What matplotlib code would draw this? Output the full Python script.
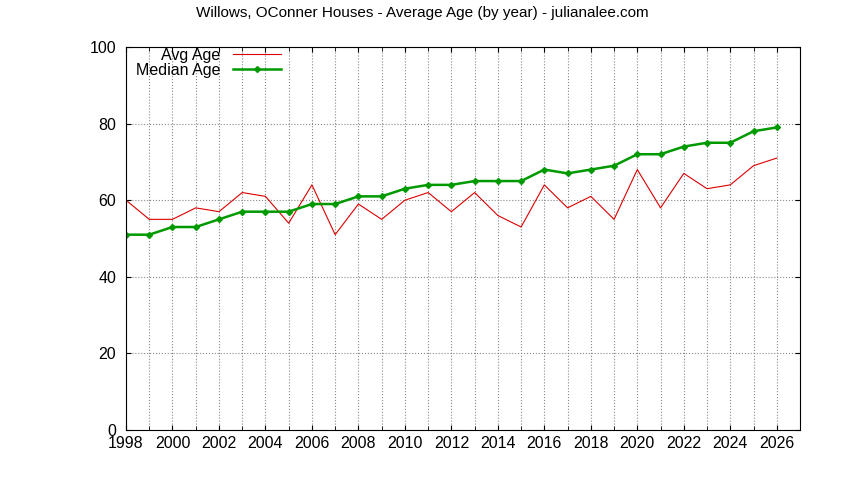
import numpy as np
import matplotlib
matplotlib.use('Agg')
import matplotlib.pyplot as plt

years = list(range(1998, 2027))
avg_age = [60, 55, 55, 58, 57, 62, 61, 54, 64, 51, 59, 55, 60, 62, 57, 62, 56, 53,
           64, 58, 61, 55, 68, 58, 67, 63, 64, 69, 71]
median_age = [51, 51, 53, 53, 55, 57, 57, 57, 59, 59, 61, 61, 63, 64, 64, 65, 65, 65,
              68, 67, 68, 69, 72, 72, 74, 75, 75, 78, 79]

plt.rc('font', family='Liberation Sans', size=11.5)
fig = plt.figure(figsize=(8.44, 4.80), dpi=100)
ax = fig.add_axes([126/844, 50/480, (800-126)/844, (430-47)/480])

ax.plot(years, avg_age, color='#dd0000', lw=0.8, label='Avg Age')
ax.plot(years, median_age, color='#009900', lw=1.8, marker='D', ms=3, label='Median Age')

ax.set_xlim(1998, 2027)
ax.set_ylim(0, 100)
ax.set_xticks(range(1998, 2027, 2))
ax.xaxis.set_minor_locator(matplotlib.ticker.MultipleLocator(1))
ax.set_yticks(range(0, 101, 20))
ax.tick_params(which='both', direction='in', top=True, right=True)
ax.tick_params(axis='y', pad=7)
ax.tick_params(axis='x', pad=4)
ax.tick_params(which='minor', length=3)
ax.grid(True, which='both', axis='x', linestyle=':', color='#888888', lw=0.8)
ax.grid(True, which='major', axis='y', linestyle=':', color='#888888', lw=0.8)

leg = ax.legend(loc='upper left', frameon=False, markerfirst=False,
                handlelength=3, borderaxespad=0.0, labelspacing=0.0,
                bbox_to_anchor=(0.005, 1.015))

fig.text(0.5, 0.972, 'Willows, OConner Houses - Average Age (by year) - julianalee.com',
         ha='center', va='center', fontsize=11)
fig.savefig('out.png', dpi=100)
